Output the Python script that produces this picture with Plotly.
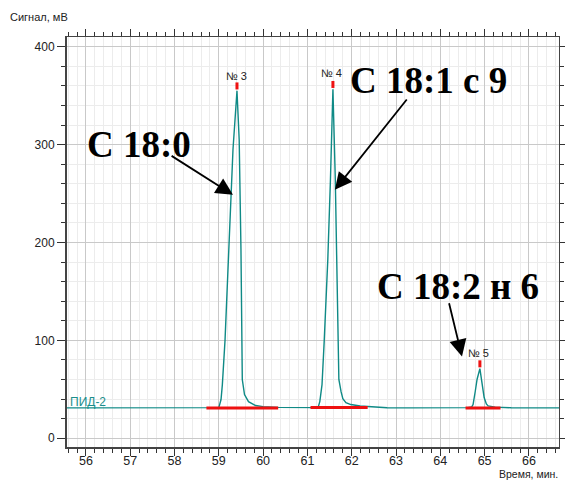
import plotly.graph_objects as go

# chromatogram trace (time, min ; signal, mV)
time = [55.55, 56.2, 56.9, 57.6, 57.7, 57.8, 58.3, 58.72,
        59.00, 59.05, 59.08, 59.14, 59.23, 59.32, 59.41, 59.46, 59.50, 59.53,
        59.58, 59.67, 59.83, 60.00, 60.34, 60.8, 61.07,
        61.24, 61.28, 61.33, 61.38, 61.46, 61.52, 61.576, 61.63, 61.68, 61.71,
        61.76, 61.80, 61.87, 61.98, 62.19, 62.37, 62.8, 63.3, 63.8, 64.3,
        64.62, 64.71, 64.74, 64.79, 64.83, 64.894, 64.94, 64.99, 65.04, 65.08,
        65.24, 65.6, 66.1, 66.68]
signal = [31.0, 31.1, 31.0, 31.2, 31.6, 31.1, 31.0, 31.1,
          31.3, 39.5, 54.8, 100, 193, 295, 355, 305, 193, 60,
          44.6, 37.4, 33.4, 32.3, 31.5, 31.1, 31.0,
          31.3, 37.4, 54.8, 100, 182, 264, 356.5, 264, 141, 60,
          47.6, 40.5, 36.4, 34.4, 32.9, 32.3, 31.2, 31.0, 31.1, 31.0,
          31.3, 32.0, 34.4, 48, 60, 71.1, 56, 41.5, 35, 33,
          31.8, 31.1, 31.0, 31.0]

# integration baselines (red)
base_start = [58.72, 61.07, 64.57]
base_end = [60.34, 62.36, 65.36]
base_level = [31.0, 31.3, 31.0]

# peak apex markers and labels
peak_time = [59.41, 61.576, 64.894]
peak_mark = [360, 361.5, 76]
peak_names = ["№ 3", "№ 4", "№ 5"]
peak_label_y = [370, 373, 87]
peak_label_x = [59.41, 61.55, 64.86]

# compound annotations
comp_text = ["С 18:0", "С 18:1 с 9", "С 18:2 н 6"]
comp_x = [57.2, 63.74, 64.4]
comp_y = [300, 366, 155]
arrow_tail_x = [57.90, 63.27, 64.19]
arrow_tail_y = [289.5, 347.7, 139.5]
arrow_tip_x = [59.32, 61.62, 64.49]
arrow_tip_y = [248.7, 253.8, 83.4]

x_range = [55.55, 66.68]
y_range = [-10, 410]

W, H = 565, 480
ml, mr, mt, mb = 66, 6, 37, 32
pw, ph = W - ml - mr, H - mt - mb

fig = go.Figure()

fig.add_trace(go.Scatter(x=time, y=signal, mode="lines",
                         line=dict(color="#0f8a86", width=1.4),
                         hoverinfo="skip", showlegend=False))

for xs, xe, yl in zip(base_start, base_end, base_level):
    fig.add_trace(go.Scatter(x=[xs, xe], y=[yl, yl], mode="lines",
                             line=dict(color="#ee1111", width=3),
                             showlegend=False, hoverinfo="skip"))

fig.add_trace(go.Scatter(x=peak_time, y=peak_mark, mode="markers",
                         marker=dict(symbol="line-ns", size=5,
                                     line=dict(color="#ee1111", width=3)),
                         showlegend=False, hoverinfo="skip"))

annotations = []
for t, xx, yy in zip(peak_names, peak_label_x, peak_label_y):
    annotations.append(dict(x=xx, y=yy, xref="x", yref="y", text=t,
                            showarrow=False,
                            font=dict(family="Arial", size=11, color="#222")))

for t, xx, yy in zip(comp_text, comp_x, comp_y):
    annotations.append(dict(x=xx, y=yy, xref="x", yref="y",
                            text="<b>" + t + "</b>", showarrow=False,
                            font=dict(family="Liberation Serif", size=37,
                                      color="#000")))

for tx, ty, hx, hy in zip(arrow_tail_x, arrow_tail_y, arrow_tip_x, arrow_tip_y):
    annotations.append(dict(x=hx, y=hy, ax=tx, ay=ty, xref="x", yref="y",
                            axref="x", ayref="y", text="", showarrow=True,
                            arrowhead=2, arrowsize=1.9, arrowwidth=1.8,
                            arrowcolor="#000", standoff=0))

annotations.append(dict(x=55.6, y=37, xref="x", yref="y", text="ПИД-2",
                        xanchor="left", yanchor="middle", showarrow=False,
                        font=dict(family="Arial", size=12, color="#1a8f8c")))
annotations.append(dict(x=(8 - ml) / pw, y=(H - mb - 17) / ph,
                        xref="paper", yref="paper",
                        text="Сигнал, мВ", showarrow=False,
                        font=dict(family="Arial", size=11, color="#222"),
                        xanchor="left", yanchor="middle"))
annotations.append(dict(x=1, y=(H - mb - 473.5) / ph, xref="paper", yref="paper",
                        text="Время, мин.", showarrow=False, borderpad=0,
                        font=dict(family="Arial", size=10.5, color="#222"),
                        xanchor="right", yanchor="middle"))

fig.update_layout(
    width=W, height=H,
    margin=dict(l=ml, r=mr, t=mt, b=mb, autoexpand=False),
    paper_bgcolor="white", plot_bgcolor="white",
    annotations=annotations,
    font=dict(family="Arial", size=12, color="#222"),
    xaxis=dict(range=x_range, dtick=1, tick0=0, ticks="outside", ticklen=7,
               tickwidth=1, tickcolor="#333", showline=True, linecolor="#444",
               linewidth=1, mirror="ticks", showgrid=True, automargin=False,
               gridcolor="#c9c9c9", gridwidth=1, zeroline=False,
               tickfont=dict(size=12.5), ticklabelstandoff=-6,
               minor=dict(dtick=0.2, ticks="outside", ticklen=4,
                          tickcolor="#333", showgrid=True,
                          gridcolor="#ececec")),
    yaxis=dict(range=y_range, dtick=100, tick0=0, ticks="outside", ticklen=8,
               tickwidth=1, tickcolor="#333", showline=True, linecolor="#444",
               linewidth=1, mirror="ticks", showgrid=True, automargin=False,
               gridcolor="#c9c9c9", gridwidth=1, zeroline=False,
               tickfont=dict(size=12),
               minor=dict(dtick=20, ticks="outside", ticklen=4,
                          tickcolor="#333", showgrid=True,
                          gridcolor="#ececec")),
    shapes=[dict(type="line", xref="paper", yref="paper", x0=0, x1=0,
                 y0=0, y1=1, line=dict(color="#444", width=2)),
            dict(type="line", xref="paper", yref="paper", x0=0, x1=1,
                 y0=0, y1=0, line=dict(color="#444", width=2))],
)

fig.write_html("out.html")
